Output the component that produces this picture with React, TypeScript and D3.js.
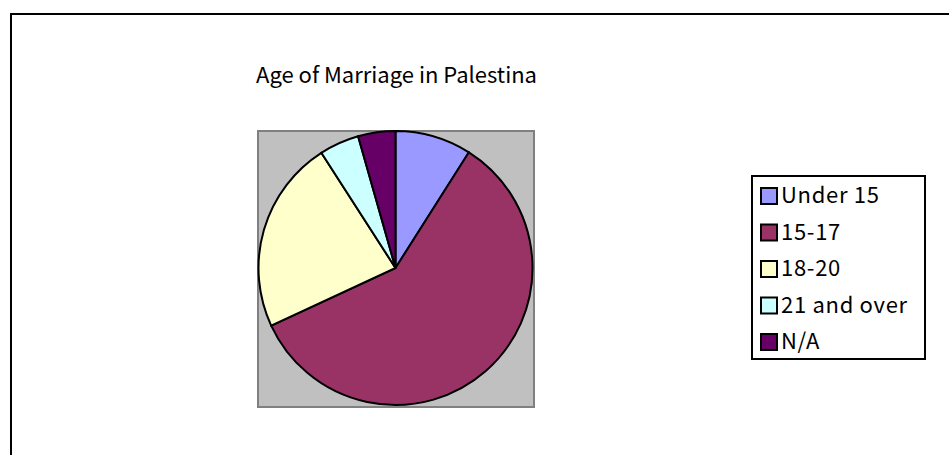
import React from "react";
import * as d3 from "d3";

const title = "Age of Marriage in Palestina";
const categories = ["Under 15", "15-17", "18-20", "21 and over", "N/A"];
const values = [9.0, 59.1, 22.8, 4.7, 4.4];
const colors = ["#9999FF", "#993366", "#FFFFCC", "#CCFFFF", "#660066"];

const W = 949;
const H = 455;
const FONT = "'Noto Sans CJK JP', 'Noto Sans', sans-serif";

export default function App() {
  const cx = 395.5;
  const cy = 268;
  const r = 137;
  const pie = d3.pie<number>().sort(null).value((d) => d)(values);
  const arc = d3.arc<d3.PieArcDatum<number>>().innerRadius(0).outerRadius(r);

  const legX = 752;
  const legY = 176;
  const legW = 173;
  const legH = 183;
  const rowY = d3.scalePoint<string>().domain(categories).range([195.5, 341.5]);

  return (
    <svg
      width={W}
      height={H}
      style={{ position: "absolute", left: 0, top: 0, background: "#fff" }}
    >
      <rect x={11} y={14} width={960} height={470} fill="#fff" stroke="#000" strokeWidth={2} />
      <text x={256} y={83} fontFamily={FONT} fontSize={22} fill="#000">
        {title}
      </text>
      <rect x={258} y={131} width={276} height={276} fill="#C0C0C0" stroke="#808080" strokeWidth={2} />
      <g transform={`translate(${cx},${cy})`}>
        {pie.map((p, i) => (
          <path key={i} d={arc(p) || ""} fill={colors[i]} stroke="#000" strokeWidth={2} />
        ))}
      </g>
      <rect x={legX} y={legY} width={legW} height={legH} fill="#fff" stroke="#000" strokeWidth={2} />
      {categories.map((c, i) => {
        const y = rowY(c)!;
        return (
          <g key={c}>
            <rect x={761} y={y - 7.5} width={16} height={16} fill={colors[i]} stroke="#000" strokeWidth={2} />
            <text x={781} y={y} dy="0.36em" fontFamily={FONT} fontSize={22} letterSpacing={0.7} fill="#000">
              {c}
            </text>
          </g>
        );
      })}
    </svg>
  );
}
